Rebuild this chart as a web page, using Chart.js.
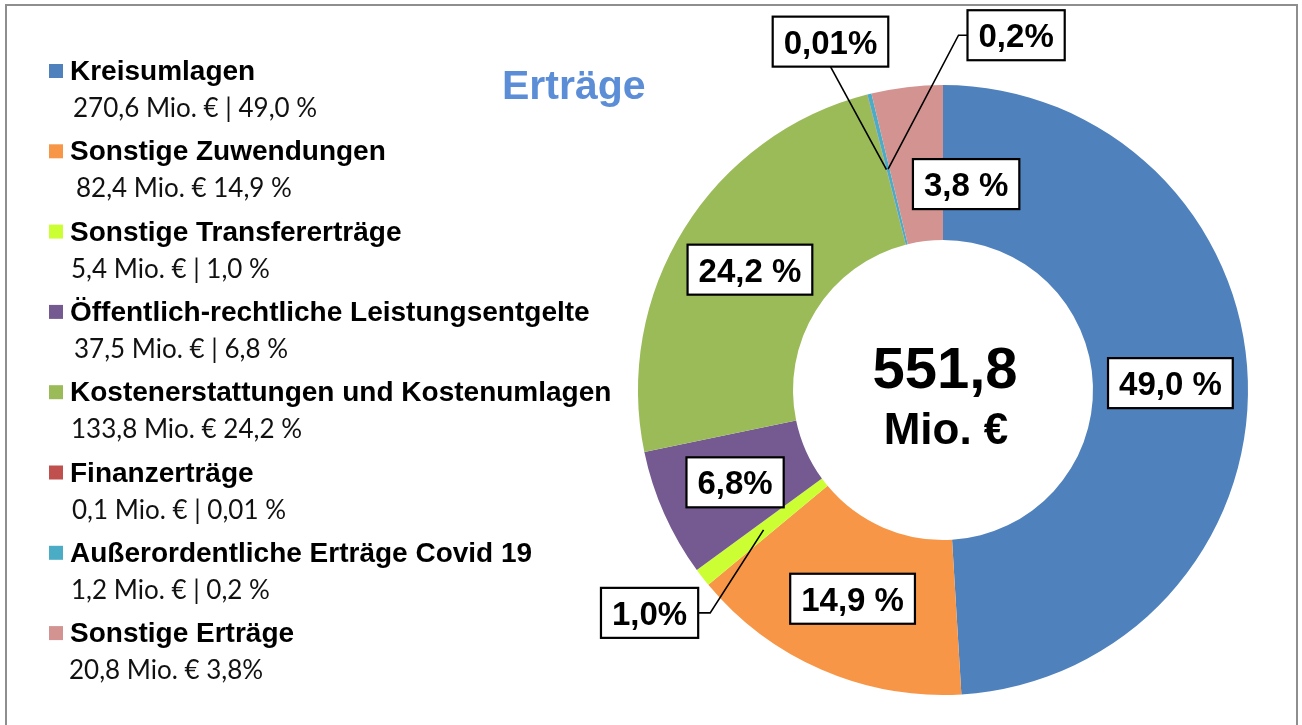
<!DOCTYPE html>
<html lang="de">
<head>
<meta charset="utf-8">
<title>Erträge</title>
<script src="https://cdn.jsdelivr.net/npm/chart.js@4.4.0/dist/chart.umd.min.js"></script>
<style>
    html, body { margin: 0; padding: 0; background: #fff; }
    canvas { display: block; }
</style>
</head>
<body>
<canvas id="ertraege-chart" width="1302" height="725"></canvas>
<script>
// Kategorien und Werte (Mio. €)
const categories = [
    'Kreisumlagen',
    'Sonstige Zuwendungen',
    'Sonstige Transfererträge',
    'Öffentlich-rechtliche Leistungsentgelte',
    'Kostenerstattungen und Kostenumlagen',
    'Finanzerträge',
    'Außerordentliche Erträge Covid 19',
    'Sonstige Erträge'
];
const valuesMio = [270.6, 82.4, 5.4, 37.5, 133.8, 0.1, 1.2, 20.8];
const percentLabels = ['49,0 %', '14,9 %', '1,0%', '6,8%', '24,2 %', '0,01%', '0,2%', '3,8 %'];
const legendDetails = [
    '270,6 Mio. € | 49,0 %',
    '82,4 Mio. € 14,9 %',
    '5,4 Mio. € | 1,0 %',
    '37,5 Mio. € | 6,8 %',
    '133,8 Mio. € 24,2 %',
    '0,1 Mio. € | 0,01 %',
    '1,2 Mio. € | 0,2 %',
    '20,8 Mio. € 3,8%'
];
const sliceColors = ['#4F81BD', '#F79646', '#CCFF33', '#755A91', '#9BBB59', '#C0504D', '#4BACC6', '#D39391'];

// Position der Beschriftungen relativ zur Segmentmitte (nur Layout)
const calloutStyle = [
    { dx: 0, dy: 0 },
    { dx: 0, dy: 0 },
    { dx: -114, dy: 83, leader: 'right' },
    { dx: 0, dy: 0 },
    { dx: 0, dy: 0 },
    { dx: -56, dy: -128, leader: 'bottom' },
    { dx: 128, dy: -134, leader: 'left' },
    { dx: 50, dy: 20 }
];
const detailIndent = [73, 76, 71, 74, 71, 72, 71, 69];

const BOLD = '"Liberation Sans", Arial, sans-serif';

// Zeichnet Rahmen, Legende, Titel, Mitte und Beschriftungen
const decorPlugin = {
    id: 'ertraegeDecor',
    afterDraw(chart) {
        const ctx = chart.ctx;
        ctx.save();

        // Rahmen
        ctx.strokeStyle = '#8E8E8E';
        ctx.lineWidth = 2;
        ctx.beginPath();
        ctx.moveTo(6, 725);
        ctx.lineTo(6, 5);
        ctx.lineTo(1297, 5);
        ctx.lineTo(1297, 725);
        ctx.stroke();

        // Legende
        categories.forEach((name, i) => {
            const base = 80 + i * 80.3;
            ctx.fillStyle = sliceColors[i];
            ctx.fillRect(49, base - 16, 14, 14);
            ctx.fillStyle = '#000';
            ctx.font = 'bold 28px ' + BOLD;
            ctx.textBaseline = 'alphabetic';
            ctx.textAlign = 'left';
            ctx.fillText(name, 70, base);
            ctx.font = '26px Lato, "Open Sans", sans-serif';
            ctx.fillStyle = '#111';
            ctx.fillText(legendDetails[i], detailIndent[i], base + 37);
        });

        // Titel
        ctx.font = 'bold 41px ' + BOLD;
        ctx.fillStyle = '#5B8ED6';
        ctx.fillText('Erträge', 502, 99);

        // Summe in der Mitte
        const meta = chart.getDatasetMeta(0);
        const cx = meta.data[0].x, cy = meta.data[0].y;
        const total = valuesMio.reduce((a, b) => a + b, 0);
        ctx.fillStyle = '#000';
        ctx.textAlign = 'center';
        ctx.font = 'bold 58px ' + BOLD;
        ctx.fillText(total.toFixed(1).replace('.', ','), cx + 2, cy - 2);
        ctx.font = 'bold 44px ' + BOLD;
        ctx.fillText('Mio. €', cx + 3, cy + 54);

        // Datenbeschriftungen mit Kästchen
        ctx.font = 'bold 33px ' + BOLD;
        const boxes = meta.data.map((arc, i) => {
            const c = arc.getCenterPoint();
            const s = calloutStyle[i];
            const w = ctx.measureText(percentLabels[i]).width + 22;
            const h = 50;
            return { ax: c.x, ay: c.y, x: c.x + s.dx - w / 2, y: c.y + s.dy - h / 2, w, h, s };
        });

        // Führungslinien
        ctx.strokeStyle = '#000';
        ctx.lineWidth = 1.6;
        boxes.forEach(b => {
            if (!b.s.leader) return;
            ctx.beginPath();
            if (b.s.leader === 'right') {
                ctx.moveTo(b.x + b.w, b.y + b.h / 2);
                ctx.lineTo(b.x + b.w + 12, b.y + b.h / 2);
            } else if (b.s.leader === 'left') {
                ctx.moveTo(b.x, b.y + b.h / 2);
                ctx.lineTo(b.x - 9, b.y + b.h / 2);
            } else {
                ctx.moveTo(b.x + b.w / 2, b.y + b.h);
            }
            ctx.lineTo(b.ax, b.ay);
            ctx.stroke();
        });

        boxes.forEach((b, i) => {
            ctx.fillStyle = '#fff';
            ctx.fillRect(b.x, b.y, b.w, b.h);
            ctx.strokeStyle = '#000';
            ctx.lineWidth = 2.2;
            ctx.strokeRect(b.x, b.y, b.w, b.h);
            ctx.fillStyle = '#000';
            ctx.textAlign = 'center';
            ctx.fillText(percentLabels[i], b.x + b.w / 2, b.y + b.h / 2 + 12);
        });

        ctx.restore();
    }
};

const ertraegeChart = new Chart(document.getElementById('ertraege-chart'), {
    type: 'doughnut',
    data: {
        labels: categories,
        datasets: [{
            data: valuesMio,
            backgroundColor: sliceColors,
            borderWidth: 0,
            hoverOffset: 0,
            radius: 305,
            cutout: 150
        }]
    },
    options: {
        responsive: false,
        animation: false,
        events: [],
        layout: { padding: { left: 638, right: 54, top: 85, bottom: 30 } },
        plugins: {
            legend: { display: false },
            tooltip: { enabled: false }
        }
    },
    plugins: [decorPlugin]
});
</script>
</body>
</html>
